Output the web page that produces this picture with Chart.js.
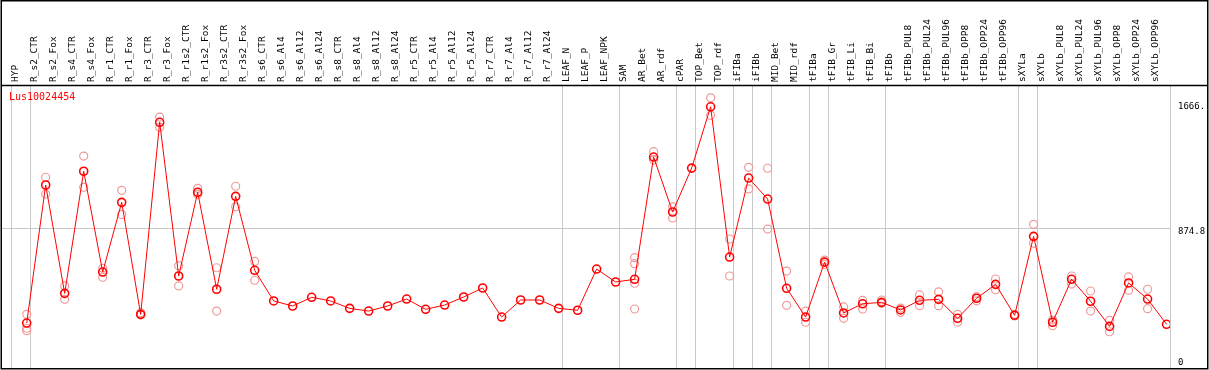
<!DOCTYPE html>
<html>
<head>
<meta charset="utf-8">
<script src="https://cdn.jsdelivr.net/npm/chart.js@4/dist/chart.umd.min.js"></script>
<style>
  html, body { margin: 0; padding: 0; background: #fff; }
  #c { display: block; }
</style>
</head>
<body>
<canvas id="c" width="1209" height="370"></canvas>
<script>
const categories = ["HYP","R_s2_CTR","R_s2_Fox","R_s4_CTR","R_s4_Fox","R_r1_CTR","R_r1_Fox","R_r3_CTR","R_r3_Fox","R_r1s2_CTR","R_r1s2_Fox","R_r3s2_CTR","R_r3s2_Fox","R_s6_CTR","R_s6_Al4","R_s6_Al12","R_s6_Al24","R_s8_CTR","R_s8_Al4","R_s8_Al12","R_s8_Al24","R_r5_CTR","R_r5_Al4","R_r5_Al12","R_r5_Al24","R_r7_CTR","R_r7_Al4","R_r7_Al12","R_r7_Al24","LEAF_N","LEAF_P","LEAF_NPK","SAM","AR_Bet","AR_rdf","cPAR","TOP_Bet","TOP_rdf","iFIBa","iFIBb","MID_Bet","MID_rdf","tFIBa","tFIB_Gr","tFIB_Li","tFIB_Bi","tFIBb","tFIBb_PUL8","tFIBb_PUL24","tFIBb_PUL96","tFIBb_OPP8","tFIBb_OPP24","tFIBb_OPP96","sXYLa","sXYLb","sXYLb_PUL8","sXYLb_PUL24","sXYLb_PUL96","sXYLb_OPP8","sXYLb_OPP24","sXYLb_OPP96"];

const meanValues = [275,1149,463,1236,598,1039,330,1546,573,1103,489,1077,609,
  415,383,438,415,368,351,383,427,362,389,440,497,313,421,421,368,356,617,535,
  552,1326,978,1256,1644,693,1193,1060,495,313,661,339,397,406,
  358,419,425,305,432,520,324,824,280,552,413,254,529,427,267];

const rep1 = [330,1198,510,1332,622,1115,341,1579,638,1128,625,1141,666,
  null,null,null,null,null,null,null,null,null,null,null,null,null,null,null,null,null,null,null,
  689,1360,1011,null,1701,807,1261,1255,604,351,674,377,419,421,
  370,453,473,330,442,554,330,900,294,573,478,292,567,489,null];

const rep2 = [242,1092,425,1134,565,963,326,1514,510,1090,351,1011,546,
  null,null,null,null,null,null,null,null,null,null,null,null,null,null,null,null,null,null,null,
  651,1307,940,null,1590,573,1124,870,387,280,647,305,364,400,
  343,385,385,280,416,486,320,780,258,522,351,220,482,366,null];

const rep3 = categories.map((c) => c === "HYP" ? 227 : (c === "SAM" ? 527 : null));
const rep4 = categories.map((c) => c === "SAM" ? 364 : null);

const geneName = "Lus10024454";
const yTickValues = [0, 874.8, 1666];
const yTickLabels = ["0", "874.8", "1666."];
const groupEnds = [-1, 0, 28, 31, 34, 35, 37, 38, 39, 41, 42, 45, 52, 53, 60];

const toPts = (arr) => arr.map((v, i) => (v === null ? null : { x: i, y: v })).filter(p => p);

const repColor = "#ef9a9a";
const repDataset = (arr) => ({
  type: "scatter",
  data: toPts(arr),
  showLine: false,
  pointRadius: 4,
  pointBorderWidth: 1.2,
  pointBorderColor: repColor,
  pointBackgroundColor: "rgba(0,0,0,0)",
  order: 2
});

const framePlugin = {
  id: "frame",
  beforeDatasetsDraw(chart) {
    const { ctx, chartArea, scales } = chart;
    const xs = scales.x, ys = scales.y;
    ctx.save();
    ctx.strokeStyle = "#c8c8c8";
    ctx.lineWidth = 1;
    groupEnds.forEach((g) => {
      const px = Math.round(xs.getPixelForValue(g + 0.2)) + 0.5;
      ctx.beginPath();
      ctx.moveTo(px, chartArea.top);
      ctx.lineTo(px, chartArea.bottom);
      ctx.stroke();
    });
    const py = Math.round(ys.getPixelForValue(yTickValues[1])) + 0.5;
    ctx.beginPath();
    ctx.moveTo(chartArea.left, py);
    ctx.lineTo(chartArea.right, py);
    ctx.stroke();
    ctx.restore();
  },
  afterDraw(chart) {
    const { ctx, chartArea, scales, width } = chart;
    const ys = scales.y;
    ctx.save();
    ctx.fillStyle = "#000";
    ctx.font = "9px 'DejaVu Sans Mono'";
    ctx.textAlign = "left";
    yTickValues.forEach((v, i) => {
      const py = ys.getPixelForValue(v);
      if (i === 0) {
        ctx.textBaseline = "bottom";
        ctx.fillText(yTickLabels[i], chartArea.right + 8, py + 1);
      } else {
        ctx.textBaseline = "top";
        ctx.fillText(yTickLabels[i], chartArea.right + 8, py - 1);
      }
    });
    ctx.fillStyle = "#ff0000";
    ctx.font = "10px 'DejaVu Sans Mono'";
    ctx.textBaseline = "middle";
    ctx.fillText(geneName, chartArea.left + 7, chartArea.top + 12);
    ctx.strokeStyle = "#000";
    ctx.lineWidth = 1.5;
    ctx.strokeRect(1.25, 0.75, width - 2.5, chartArea.bottom);
    ctx.beginPath();
    ctx.moveTo(1, chartArea.top + 0.5);
    ctx.lineTo(width - 1, chartArea.top + 0.5);
    ctx.stroke();
    ctx.restore();
  }
};

new Chart(document.getElementById("c"), {
  type: "line",
  data: {
    datasets: [
      {
        type: "line",
        data: toPts(meanValues),
        borderColor: "#ff0000",
        borderWidth: 1,
        pointRadius: 4,
        pointBorderWidth: 1.6,
        pointBorderColor: "#ff0000",
        pointBackgroundColor: "rgba(0,0,0,0)",
        tension: 0,
        order: 1
      },
      repDataset(rep1),
      repDataset(rep2),
      repDataset(rep3),
      repDataset(rep4)
    ]
  },
  options: {
    responsive: false,
    animation: false,
    devicePixelRatio: 1,
    layout: { autoPadding: false, padding: { left: 2, right: 39, top: 0, bottom: 2 } },
    plugins: { legend: { display: false }, tooltip: { enabled: false } },
    scales: {
      x: {
        type: "linear",
        position: "top",
        min: -1.3,
        max: 60.18,
        grid: { display: false, drawTicks: false },
        border: { display: false },
        afterBuildTicks: (scale) => { scale.ticks = categories.map((c, i) => ({ value: i })); },
        afterFit: (scale) => {
          scale.height = 85;
          scale.paddingLeft = 0;
          scale.paddingRight = 0;
        },
        ticks: {
          autoSkip: false,
          minRotation: 90,
          maxRotation: 90,
          padding: 3,
          color: "#000",
          font: { family: "'DejaVu Sans Mono'", size: 9.5 },
          callback: (v) => categories[v]
        }
      },
      y: {
        type: "linear",
        display: false,
        min: -9.5,
        max: 1782
      }
    }
  },
  plugins: [framePlugin]
});
</script>
</body>
</html>
